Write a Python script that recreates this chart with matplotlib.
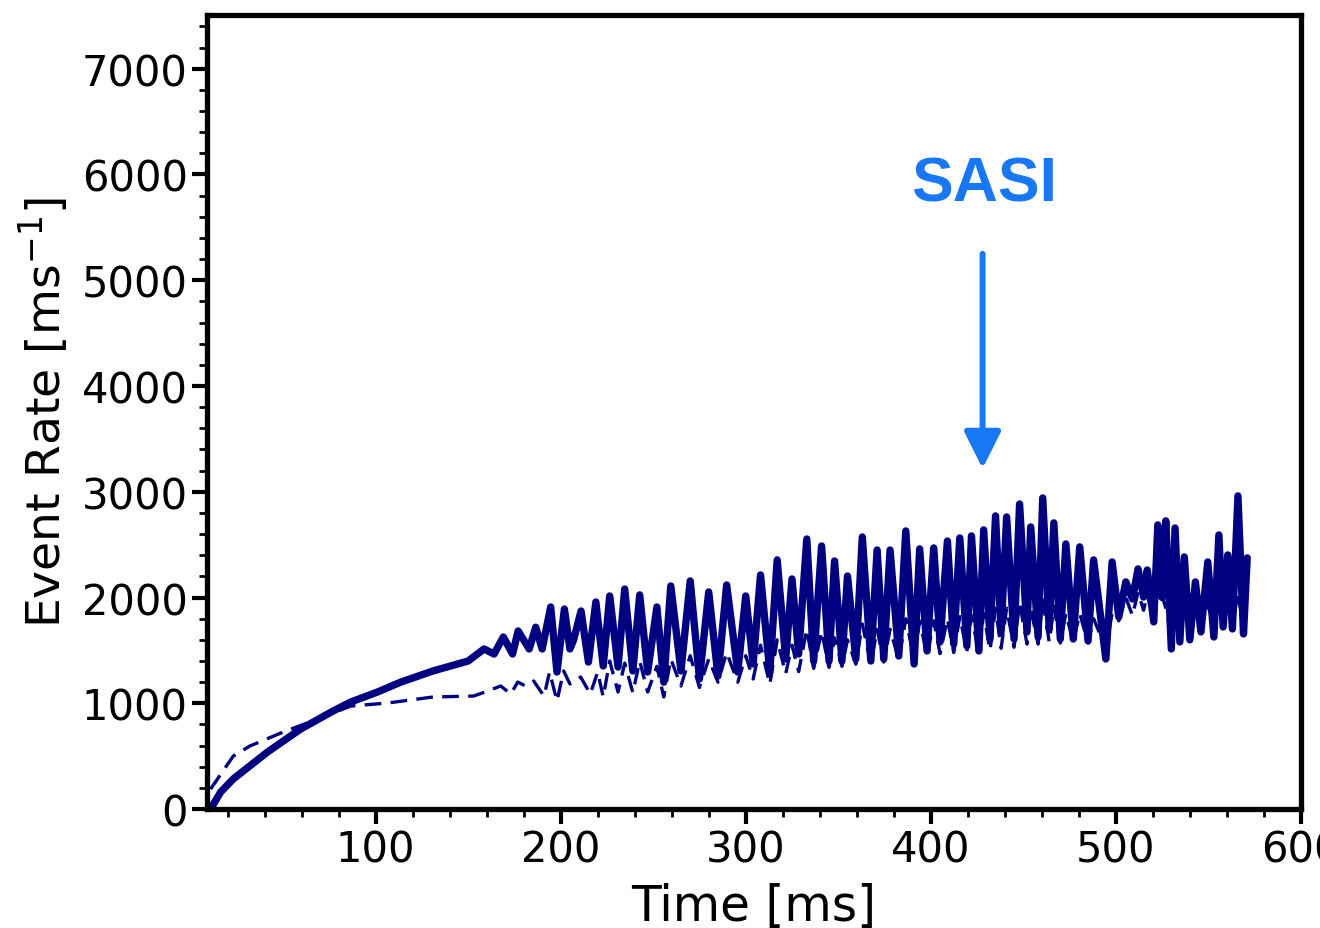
import matplotlib
matplotlib.use("Agg")
import matplotlib.pyplot as plt
from matplotlib.ticker import MultipleLocator

# ---- data ----
t_solid = [10.8, 16.2, 23, 41.6, 59.5, 77, 86.5, 101, 113.5, 131, 150, 158.6, 164, 169, 174, 177, 183,
           186.5, 190, 194.6, 198, 202, 205, 207, 211, 215, 219, 223, 226.5, 231, 234.6, 239, 242.7,
           247, 252, 255.7, 259.5, 265, 270, 275, 280, 285, 289.7, 295.7, 300, 304, 308, 313, 317,
           321.6, 325, 328.6, 333, 336.7, 341, 345, 348, 352, 355, 359.5, 363, 367.6, 371, 374.6,
           378, 382.7, 386.5, 391, 394, 398, 401.6, 405, 409, 412.4, 415.7, 419.5, 422, 426, 428.6,
           432, 435, 438, 441, 445, 448, 452, 454, 458, 460.5, 464, 466.5, 470, 473, 477, 480.5,
           485, 488, 494.6, 498, 501.6, 505.4, 509, 512, 515, 517, 520.5, 522.7, 525, 527, 530,
           532, 534.6, 537, 540, 543, 546, 549.7, 553, 555.7, 558, 560.5, 563, 566, 569, 571]
rate_solid = [0, 160, 284, 540, 757, 927, 1012, 1107, 1200, 1306, 1400, 1514, 1466, 1627, 1466, 1684, 1514,
              1720, 1514, 1911, 1296, 1892, 1514, 1600, 1873, 1390, 1958, 1353, 2015, 1343, 2081, 1306, 2025,
              1296, 1911, 1200, 2110, 1306, 2157, 1230, 2053, 1258, 2119, 1296, 2015, 1372, 2214, 1296, 2356,
              1419, 2176, 1466, 2554, 1400, 2488, 1400, 2346, 1400, 2204, 1419, 2573, 1400, 2450, 1419,
              2450, 1447, 2630, 1372, 2460, 1495, 2469, 1580, 2535, 1561, 2564, 1542, 2583, 1495, 2640,
              1608, 2772, 1675, 2762, 1608, 2885, 1675, 2668, 1627, 2942, 1703, 2706, 1608, 2507, 1608, 2479,
              1590, 2356, 1419, 2337, 1816, 2148, 1987, 2271, 2005, 2261, 1770, 2687, 2000, 2725, 1514,
              2658, 1580, 2384, 1600, 2148, 1675, 2337, 1627, 2592, 1722, 2403, 1703, 2961, 1656, 2375]

t_dashed = [10.8, 23, 32, 50, 68.6, 86.5, 106.5, 131, 153, 160.5, 167.6, 173, 176.8, 181, 185.4, 191,
            194, 198, 201.6, 205, 210.8, 216, 220, 223, 226.5, 231, 234.6, 239, 242.7, 247, 252, 255.7,
            259.5, 265, 270, 275, 280, 285, 289.7, 295.7, 300, 304, 308, 313, 317, 321.6, 325, 328.6,
            333, 336.7, 341, 345, 348, 352, 355, 359.5, 363, 367.6, 371, 374.6, 378, 382.7, 386.5, 391,
            394, 398, 401.6, 405, 409, 412.4, 415.7, 419.5, 422, 426, 428.6, 432, 435, 438, 441, 445,
            448, 452, 454, 458, 460.5, 464, 466.5, 470, 473, 477, 480.5, 485, 488, 494.6, 498, 501.6,
            505.4, 509, 512, 515, 517, 520.5, 522.7, 527, 530, 534.6, 537, 540, 543, 546, 549.7, 553,
            555.7, 558, 560.5, 563, 566, 569, 571]
rate_dashed = [189, 500, 596, 728, 851, 974, 1003, 1060, 1069, 1116, 1164, 1088, 1201, 1164, 1211, 1069,
               1296, 1022, 1306, 1183, 1249, 1088, 1296, 1060, 1400, 1107, 1380, 1100, 1400, 1107, 1350, 1060,
               1420, 1164, 1450, 1150, 1420, 1200, 1480, 1200, 1450, 1230, 1550, 1180, 1600, 1280, 1550, 1300,
               1700, 1330, 1680, 1340, 1620, 1350, 1600, 1370, 1750, 1370, 1700, 1390, 1700, 1410, 1800, 1420,
               1780, 1450, 1780, 1470, 1800, 1480, 1820, 1490, 1830, 1470, 1850, 1500, 1900, 1520, 1900, 1530,
               1950, 1560, 1900, 1560, 1980, 1580, 1920, 1570, 1850, 1580, 1850, 1570, 1800, 1520, 1850, 1780,
               2000, 1830, 2050, 1880, 2030, 1780, 2150, 1900, 1650, 1700, 1950, 1650, 1900, 1700, 1950, 1680,
               2000, 1750, 1950, 1720, 2050, 1700, 1850]

x_ticks = [100, 200, 300, 400, 500, 600]
y_ticks = [0, 1000, 2000, 3000, 4000, 5000, 6000, 7000]
annot_text = "SASI"
annot_x = 429
annot_text_y = 5910
arrow_top = 5250
arrow_tip = 3220

# ---- figure ----
navy = "#000080"
blue = "#1877f5"

fig = plt.figure(figsize=(13.2, 9.29), dpi=100)
ax = fig.add_axes([0.157, 0.128, 0.8285, 0.855])

ax.plot(t_dashed, rate_dashed, color=navy, lw=2.4, dashes=(5, 2.8), solid_joinstyle="round")
ax.plot(t_solid, rate_solid, color=navy, lw=5.3, solid_joinstyle="round", solid_capstyle="round")

ax.set_xlim(9, 600)
ax.set_ylim(0, 7510)
ax.set_xticks(x_ticks)
ax.set_yticks(y_ticks)
ax.xaxis.set_minor_locator(MultipleLocator(20))
ax.yaxis.set_minor_locator(MultipleLocator(200))

for s in ax.spines.values():
    s.set_linewidth(3.8)
ax.tick_params(which="major", direction="out", length=11, width=3, labelsize=30, pad=3)
ax.tick_params(which="minor", direction="out", length=6, width=2)

ax.set_xlabel("Time [ms]", fontsize=35, labelpad=8)
ax.set_ylabel("Event Rate [ms$^{-1}$]", fontsize=34, labelpad=8)

ax.text(annot_x, annot_text_y, annot_text, color=blue, fontsize=45, fontweight="bold",
        family="Liberation Sans", ha="center", va="center")
ax.annotate("", xy=(annot_x - 1, arrow_tip), xytext=(annot_x - 1, arrow_top),
            arrowprops=dict(arrowstyle="-|>,head_length=0.4,head_width=0.2", color=blue,
                            lw=4.3, mutation_scale=56, shrinkA=0, shrinkB=0))

fig.savefig("out.png", dpi=100)
